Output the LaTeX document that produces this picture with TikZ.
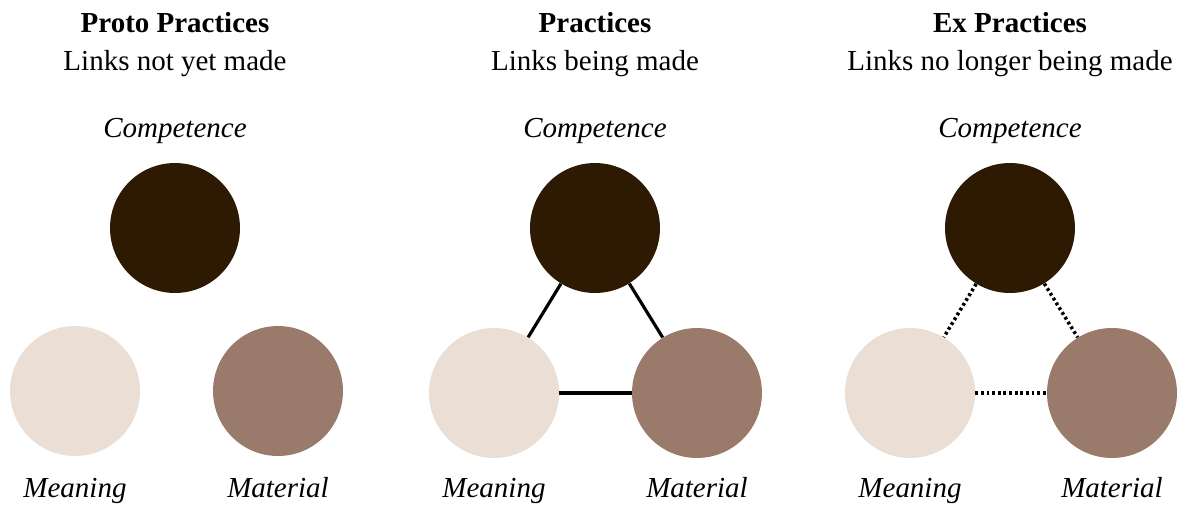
\documentclass[tikz,border=0pt]{standalone}
\usepackage{fontspec}
\setmainfont{Liberation Serif}
\definecolor{compcol}{HTML}{2E1A03}
\definecolor{meancol}{HTML}{EADED5}
\definecolor{matcol}{HTML}{9A7B6B}
\begin{document}
\begin{tikzpicture}[x=0.02cm,y=-0.02cm,
  elem/.style={circle,minimum size=2.6cm,inner sep=0pt},
  ttl/.style={anchor=base,font=\fontsize{16.5}{20}\selectfont\bfseries},
  sub/.style={anchor=base,font=\fontsize{16.5}{20}\selectfont},
  lbl/.style={anchor=base,font=\fontsize{16.5}{20}\selectfont\itshape},
  link/.style={line width=1.8pt},
  exlink/.style={line width=2pt,dash pattern=on 1.6pt off 1.6pt}]
\useasboundingbox (0,0) rectangle (1181,505);

% Proto practices
\node[ttl] (t1) at (175,32) {Proto Practices};
\node[sub] (s1) at (175,70) {Links not yet made};
\node[lbl] (lc1) at (175,137) {Competence};
\node[elem,fill=compcol] (comp1) at (175,228) {};
\node[elem,fill=meancol] (mean1) at (75,391) {};
\node[elem,fill=matcol] (mat1) at (278,391) {};
\node[lbl] (lm1) at (75,497) {Meaning};
\node[lbl] (lt1) at (278,497) {Material};

% Practices
\node[ttl] (t2) at (595,32) {Practices};
\node[sub] (s2) at (595,70) {Links being made};
\node[lbl] (lc2) at (595,137) {Competence};
\node[elem,fill=compcol] (comp2) at (595,228) {};
\node[elem,fill=meancol] (mean2) at (494,393) {};
\node[elem,fill=matcol] (mat2) at (697,393) {};
\node[lbl] (lm2) at (494,497) {Meaning};
\node[lbl] (lt2) at (697,497) {Material};
\draw[link] (comp2) -- (mean2);
\draw[link] (comp2) -- (mat2);
\draw[link] (mean2) -- (mat2);

% Ex practices
\node[ttl] (t3) at (1010,32) {Ex Practices};
\node[sub] (s3) at (1010,70) {Links no longer being made};
\node[lbl] (lc3) at (1010,137) {Competence};
\node[elem,fill=compcol] (comp3) at (1010,228) {};
\node[elem,fill=meancol] (mean3) at (910,393) {};
\node[elem,fill=matcol] (mat3) at (1112,393) {};
\node[lbl] (lm3) at (910,497) {Meaning};
\node[lbl] (lt3) at (1112,497) {Material};
\draw[exlink] (comp3) -- (mean3);
\draw[exlink] (comp3) -- (mat3);
\draw[exlink] (mean3) -- (mat3);
\end{tikzpicture}
\end{document}
